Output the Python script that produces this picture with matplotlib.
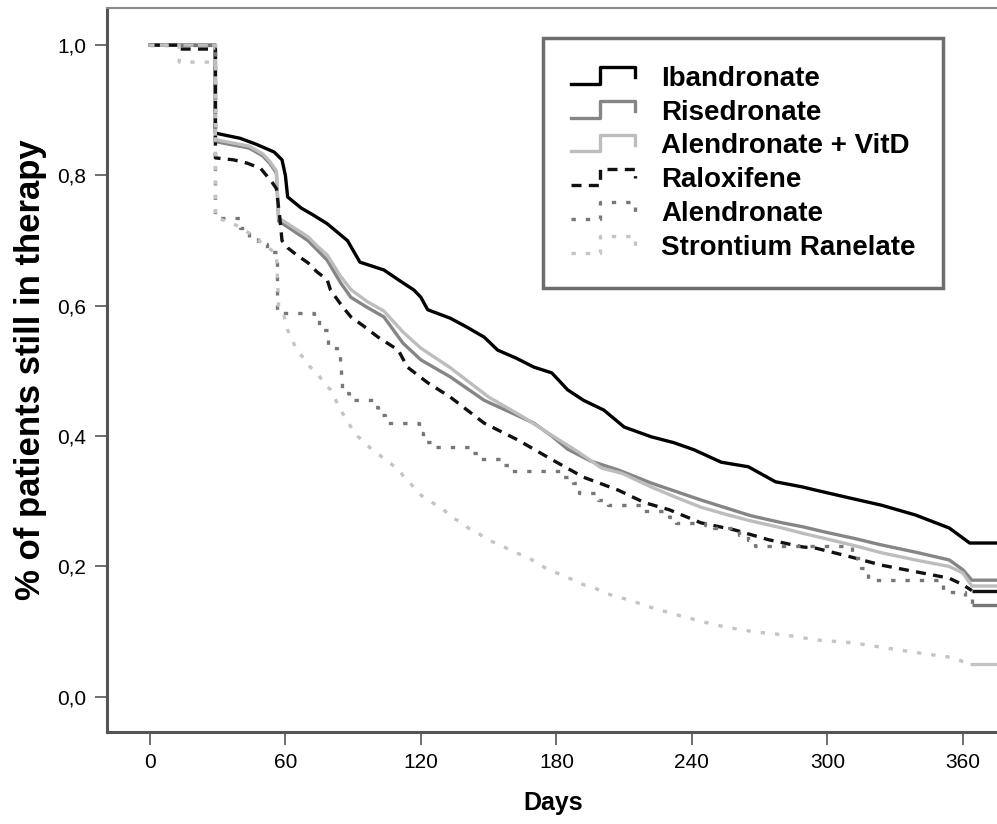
import matplotlib
matplotlib.use("Agg")
import matplotlib.pyplot as plt
from matplotlib import font_manager
from matplotlib.lines import Line2D
from matplotlib.legend_handler import HandlerBase
from matplotlib.ticker import FuncFormatter

# Survival curves (day, fraction still in therapy).
# Repeated days mark the vertical drops.
iband_t = [0, 29, 29, 40, 47, 55, 58.5, 60, 61, 67, 72, 78.5, 87.5, 93, 103.6, 110, 117, 120,
           123, 133, 140, 148, 154, 162, 170, 178, 185, 192, 201, 210, 222, 232, 241, 253, 265,
           277, 289, 295, 310, 324, 339, 354, 363, 376]
iband_s = [1.0, 1.0, 0.865, 0.857, 0.848, 0.836, 0.824, 0.80, 0.767, 0.75, 0.74, 0.726, 0.70,
           0.667, 0.655, 0.64, 0.624, 0.613, 0.594, 0.581, 0.568, 0.552, 0.532, 0.52, 0.506,
           0.497, 0.471, 0.455, 0.44, 0.414, 0.399, 0.39, 0.379, 0.36, 0.353, 0.33, 0.322, 0.317,
           0.305, 0.294, 0.279, 0.259, 0.236, 0.236]

rise_t = [0, 29, 29, 44, 50, 53, 56, 57, 61, 70, 74, 78.5, 84.5, 89, 96, 103.6, 112, 120, 133,
          148, 160, 170, 178, 185, 195, 207.5, 222, 233, 244, 255, 266, 280, 289, 300, 312, 324,
          339, 354, 360, 364, 376]
rise_s = [1.0, 1.0, 0.852, 0.842, 0.83, 0.819, 0.804, 0.73, 0.721, 0.70, 0.686, 0.67, 0.635,
          0.613, 0.598, 0.583, 0.543, 0.517, 0.491, 0.455, 0.436, 0.42, 0.40, 0.38, 0.362, 0.348,
          0.328, 0.315, 0.302, 0.29, 0.278, 0.267, 0.261, 0.252, 0.243, 0.233, 0.222, 0.21,
          0.195, 0.179, 0.179]

vitd_t = [0, 29, 29, 44, 50, 53, 56, 57, 61, 70, 74, 78.5, 84.5, 89, 96, 103.6, 112, 120, 133,
          150, 165, 179, 190, 200, 209, 222, 233, 244, 255, 266, 280, 289, 300, 312, 324, 339,
          354, 360, 364, 376]
vitd_s = [1.0, 1.0, 0.855, 0.845, 0.833, 0.822, 0.807, 0.735, 0.726, 0.706, 0.692, 0.678, 0.645,
          0.625, 0.607, 0.592, 0.56, 0.535, 0.505, 0.46, 0.43, 0.399, 0.375, 0.351, 0.343, 0.322,
          0.306, 0.291, 0.28, 0.27, 0.259, 0.251, 0.242, 0.232, 0.221, 0.21, 0.2, 0.19, 0.170,
          0.170]

ralox_t = [0, 13, 13, 29, 29, 37, 43, 49, 54, 56, 57.5, 58.5, 61, 65, 70, 74, 78.5, 80, 85, 89,
           95, 101, 110, 114, 123, 133, 148, 163, 178, 192, 207.5, 219, 230, 244, 259, 274, 289,
           295, 310, 324, 339, 354, 360, 364, 376]
ralox_s = [1.0, 1.0, 0.994, 0.994, 0.827, 0.824, 0.819, 0.811, 0.79, 0.78, 0.736, 0.70, 0.689,
           0.678, 0.666, 0.652, 0.64, 0.624, 0.60, 0.583, 0.568, 0.552, 0.532, 0.506, 0.482, 0.46,
           0.42, 0.394, 0.364, 0.337, 0.317, 0.298, 0.287, 0.267, 0.256, 0.241, 0.23, 0.228,
           0.215, 0.202, 0.192, 0.182, 0.172, 0.163, 0.163]

# Alendronate has few patients, so it is a real staircase (drawn with step/post)
alen_t = [0, 29, 40, 44, 48, 52, 56.5, 72.5, 75, 79, 83, 84, 84.5, 85, 88, 99, 101, 104, 119, 121,
          126, 142, 146, 156.5, 160, 183, 187.5, 190, 198.5, 203, 219, 230, 233, 246, 250, 261,
          265, 268, 311, 315, 318, 351, 361, 364, 376]
alen_s = [1.0, 0.735, 0.72, 0.706, 0.695, 0.683, 0.589, 0.578, 0.563, 0.535, 0.525, 0.505, 0.483,
          0.466, 0.455, 0.445, 0.433, 0.42, 0.405, 0.391, 0.383, 0.374, 0.365, 0.356, 0.347, 0.337,
          0.328, 0.313, 0.302, 0.294, 0.285, 0.276, 0.267, 0.264, 0.259, 0.248, 0.241, 0.232,
          0.213, 0.198, 0.18, 0.161, 0.152, 0.141, 0.141]

stron_t = [0, 13, 13, 29, 29, 36, 40, 46, 50, 54, 56, 57, 59, 61, 63, 65, 68, 71, 74, 77, 80,
           84.5, 89, 92, 95, 98.5, 102, 106, 110, 112.5, 115.5, 118.5, 122, 126, 130, 133, 138,
           141, 145, 149, 153, 158, 162, 167, 171, 175, 179, 184, 188, 192, 197, 201, 207, 212,
           222, 232, 245, 255, 267, 281, 296, 311, 326, 341, 356, 360, 363, 376]
stron_s = [1.0, 1.0, 0.974, 0.974, 0.735, 0.728, 0.72, 0.707, 0.695, 0.685, 0.68, 0.60, 0.59,
           0.563, 0.548, 0.532, 0.52, 0.506, 0.497, 0.482, 0.471, 0.44, 0.414, 0.40, 0.39, 0.379,
           0.37, 0.359, 0.35, 0.337, 0.327, 0.314, 0.304, 0.296, 0.288, 0.276, 0.268, 0.259,
           0.252, 0.242, 0.236, 0.228, 0.221, 0.215, 0.206, 0.198, 0.192, 0.184, 0.179, 0.172,
           0.167, 0.16, 0.153, 0.149, 0.137, 0.127, 0.115, 0.107, 0.1, 0.095, 0.087, 0.083,
           0.075, 0.067, 0.06, 0.054, 0.051, 0.051]

names = ["Ibandronate", "Risedronate", "Alendronate + VitD", "Raloxifene", "Alendronate",
         "Strontium Ranelate"]
xticks = [0, 60, 120, 180, 240, 300, 360]
yticks = [0.0, 0.2, 0.4, 0.6, 0.8, 1.0]

series = [(iband_t, iband_s), (rise_t, rise_s), (vitd_t, vitd_s), (ralox_t, ralox_s),
          (alen_t, alen_s), (stron_t, stron_s)]
for t, s in series:
    assert len(t) == len(s)
colors = ["#000000", "#858585", "#bdbdbd", "#111111", "#777777", "#c4c4c4"]
dashes = [None, None, None, (3.0, 2.2), (1.3, 3.0), (1.3, 3.0)]
stepped = [False, False, False, False, True, False]

available = {f.name for f in font_manager.fontManager.ttflist}
narrow = "Liberation Sans Narrow" if "Liberation Sans Narrow" in available else "Liberation Sans"
plt.rcParams["font.family"] = ["Liberation Sans", "DejaVu Sans"]


class StepHandler(HandlerBase):
    # SPSS-like little step symbol in the legend
    def create_artists(self, legend, orig_handle, xdescent, ydescent, width, height, fontsize, trans):
        xs = [f * width - xdescent for f in (0.0, 0.45, 0.45, 1.0, 1.0)]
        ys = [f * height - ydescent for f in (0.1, 0.1, 0.95, 0.95, 0.45)]
        ln = Line2D(xs, ys)
        ln.update_from(orig_handle)
        ln.set_data(xs, ys)
        ln.set_transform(trans)
        return [ln]


fig = plt.figure(figsize=(9.97, 8.24), dpi=100)
ax = fig.add_axes([107 / 997, 92 / 824, 1 - 107 / 997 + 0.002, (732 - 8) / 824])

handles = []
for (t, s), c, d, st, name in zip(series, colors, dashes, stepped, names):
    ds = "steps-post" if st else "default"
    if d is None:
        h, = ax.plot(t, s, drawstyle=ds, color=c, lw=2.4, label=name)
    else:
        h, = ax.plot(t[:-1], s[:-1], drawstyle=ds, color=c, lw=2.4, label=name)
        h.set_dashes(d)
        # the last (censored) stretch is drawn solid
        ax.plot(t[-2:], s[-2:], color=c, lw=2.4, solid_capstyle="butt")
    handles.append(h)

ax.set_xlim(-19, 376)
ax.set_ylim(-0.054, 1.057)
ax.set_xticks(xticks)
ax.set_yticks(yticks)
ax.yaxis.set_major_formatter(FuncFormatter(lambda v, p: f"{v:.1f}".replace(".", ",")))
ax.tick_params(direction="out", length=9, width=1.2, color="#555555", labelsize=15, pad=6)
for lab in ax.get_xticklabels() + ax.get_yticklabels():
    lab.set_family(narrow)

for side in ["left", "bottom"]:
    ax.spines[side].set_color("#555555")
    ax.spines[side].set_linewidth(2.2)
ax.spines["top"].set_color("#8a8a8a")
ax.spines["top"].set_linewidth(1.5)
ax.spines["right"].set_visible(False)

ax.set_xlabel("Days", fontsize=18, fontweight="bold", labelpad=14)
ax.set_ylabel("% of patients still in therapy", fontsize=25, fontweight="bold", labelpad=7)

leg = ax.legend(handles=handles, handler_map={h: StepHandler() for h in handles},
                loc="upper left", bbox_to_anchor=(543 / 997, 1 - 38 / 824),
                bbox_transform=fig.transFigure, borderaxespad=0, fancybox=False,
                prop={"weight": "bold", "size": 20}, handlelength=2.3, handletextpad=0.95,
                labelspacing=0.28, borderpad=1.0, framealpha=1)
leg.get_frame().set_edgecolor("#6e6e6e")
leg.get_frame().set_linewidth(2.5)

fig.savefig("out.png", dpi=100)
